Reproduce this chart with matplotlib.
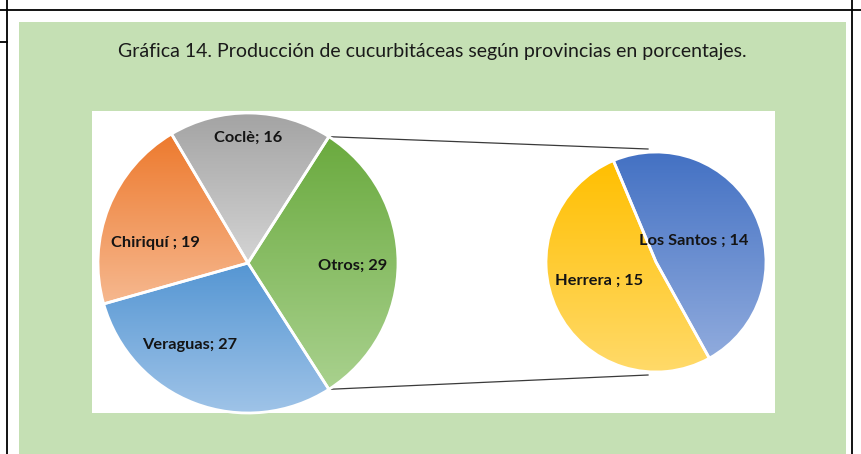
"""pie of pie: produccion de cucurbitaceas por provincia"""

import matplotlib

matplotlib.use("Agg")
import matplotlib.pyplot as plt
import numpy as np
from matplotlib.colors import LinearSegmentedColormap
from matplotlib.patches import Rectangle

# main pie (Otros is split into the small pie)
main_labels = ["Otros", "Coclè", "Chiriquí ", "Veraguas"]
main_values = [29, 16, 19, 27]
main_top = ["#6aaa3e", "#a3a3a3", "#ed7a2e", "#5596d3"]
main_bot = ["#a9d18e", "#d4d4d4", "#f6b88f", "#a0c4e8"]

# secondary pie
sub_labels = ["Los Santos ", "Herrera "]
sub_values = [14, 15]
sub_top = ["#4270c3", "#ffbf00"]
sub_bot = ["#90abdd", "#ffda6a"]

TITLE = "Gráfica 14. Producción de cucurbitáceas según provincias en porcentajes."

W, H = 862, 454
FONT = ["Lato", "DejaVu Sans"]


def img_y(y):
    """image pixel row -> data y"""
    return H - y


def fill_gradient(ax, wedge, c_top, c_bot):
    """vertical gradient clipped to a wedge"""
    verts = wedge.get_patch_transform().transform(wedge.get_path().vertices)
    x0, y0 = verts.min(axis=0)
    x1, y1 = verts.max(axis=0)
    cmap = LinearSegmentedColormap.from_list("g", [c_bot, c_top])
    grad = np.linspace(0, 1, 256)[:, None]
    im = ax.imshow(grad, cmap=cmap, extent=(x0, x1, y0, y1), origin="lower",
                   aspect="auto", zorder=1.5, interpolation="bilinear")
    im.set_clip_path(wedge)


fig = plt.figure(figsize=(W / 100, H / 100), dpi=100)
ax = fig.add_axes([0, 0, 1, 1])
ax.set_axis_off()

# page / table borders
ax.add_patch(Rectangle((0, 0), W, H, facecolor="white", zorder=0))
ax.add_patch(Rectangle((19, 0), 846 - 19, img_y(22), facecolor="#c5e0b4", zorder=0.2))
ax.add_patch(Rectangle((92, img_y(413)), 775 - 92, 413 - 111, facecolor="white", zorder=0.3))
ax.plot([0, W], [img_y(9.5)] * 2, color="black", lw=1.3, zorder=3)
ax.plot([7.5, 7.5], [0, H], color="black", lw=1.3, zorder=3)
ax.plot([852.5, 852.5], [0, H], color="black", lw=1.3, zorder=3)
ax.plot([0, 7.5], [img_y(41.5)] * 2, color="black", lw=1.3, zorder=3)

ax.text(432, img_y(52), TITLE, ha="center", va="center", fontsize=14,
        color="#1a1a1a", family=FONT, zorder=3)

c_main = (248, img_y(263))
r_main = 150
c_sub = (656, img_y(262))
r_sub = 110
start_main = -main_values[0] / sum(main_values) * 180
start_sub = -61

wedges, _ = ax.pie(main_values, colors=main_top, center=c_main, radius=r_main,
                   startangle=start_main, counterclock=True, frame=True,
                   wedgeprops=dict(edgecolor="white", linewidth=2))
for w, ct, cb in zip(wedges, main_top, main_bot):
    fill_gradient(ax, w, ct, cb)
    w.set_facecolor("none")
    w.set_zorder(2)

sub_wedges, _ = ax.pie(sub_values, colors=sub_top, center=c_sub, radius=r_sub,
                       startangle=start_sub, counterclock=True, frame=True,
                       wedgeprops=dict(edgecolor="white", linewidth=2))
for w, ct, cb in zip(sub_wedges, sub_top, sub_bot):
    fill_gradient(ax, w, ct, cb)
    w.set_facecolor("none")
    w.set_zorder(2)

# connector lines from Otros edges to the small pie
a = np.deg2rad(main_values[0] / sum(main_values) * 180)
for sgn in (1, -1):
    p0 = (c_main[0] + r_main * np.cos(a), c_main[1] + sgn * r_main * np.sin(a))
    p1 = (c_sub[0] - 8, c_sub[1] + sgn * (r_sub + 3))
    ax.plot([p0[0], p1[0]], [p0[1], p1[1]], color="#3a3a3a", lw=0.9, zorder=1.2)

# data labels
main_pos = [(353, 266), (248, 138), (155, 243), (190, 345)]
sub_pos = [(694, 241), (599, 281)]
for lab, v, (x, y) in zip(main_labels + sub_labels, main_values + sub_values,
                          main_pos + sub_pos):
    ax.text(x, img_y(y), f"{lab}; {v}", ha="center", va="center", fontsize=11.8,
            fontweight="bold", color="#141414", family=FONT, zorder=4)

ax.set_xlim(0, W)
ax.set_ylim(0, H)
ax.set_aspect("auto")

fig.savefig("out.png", dpi=100)
